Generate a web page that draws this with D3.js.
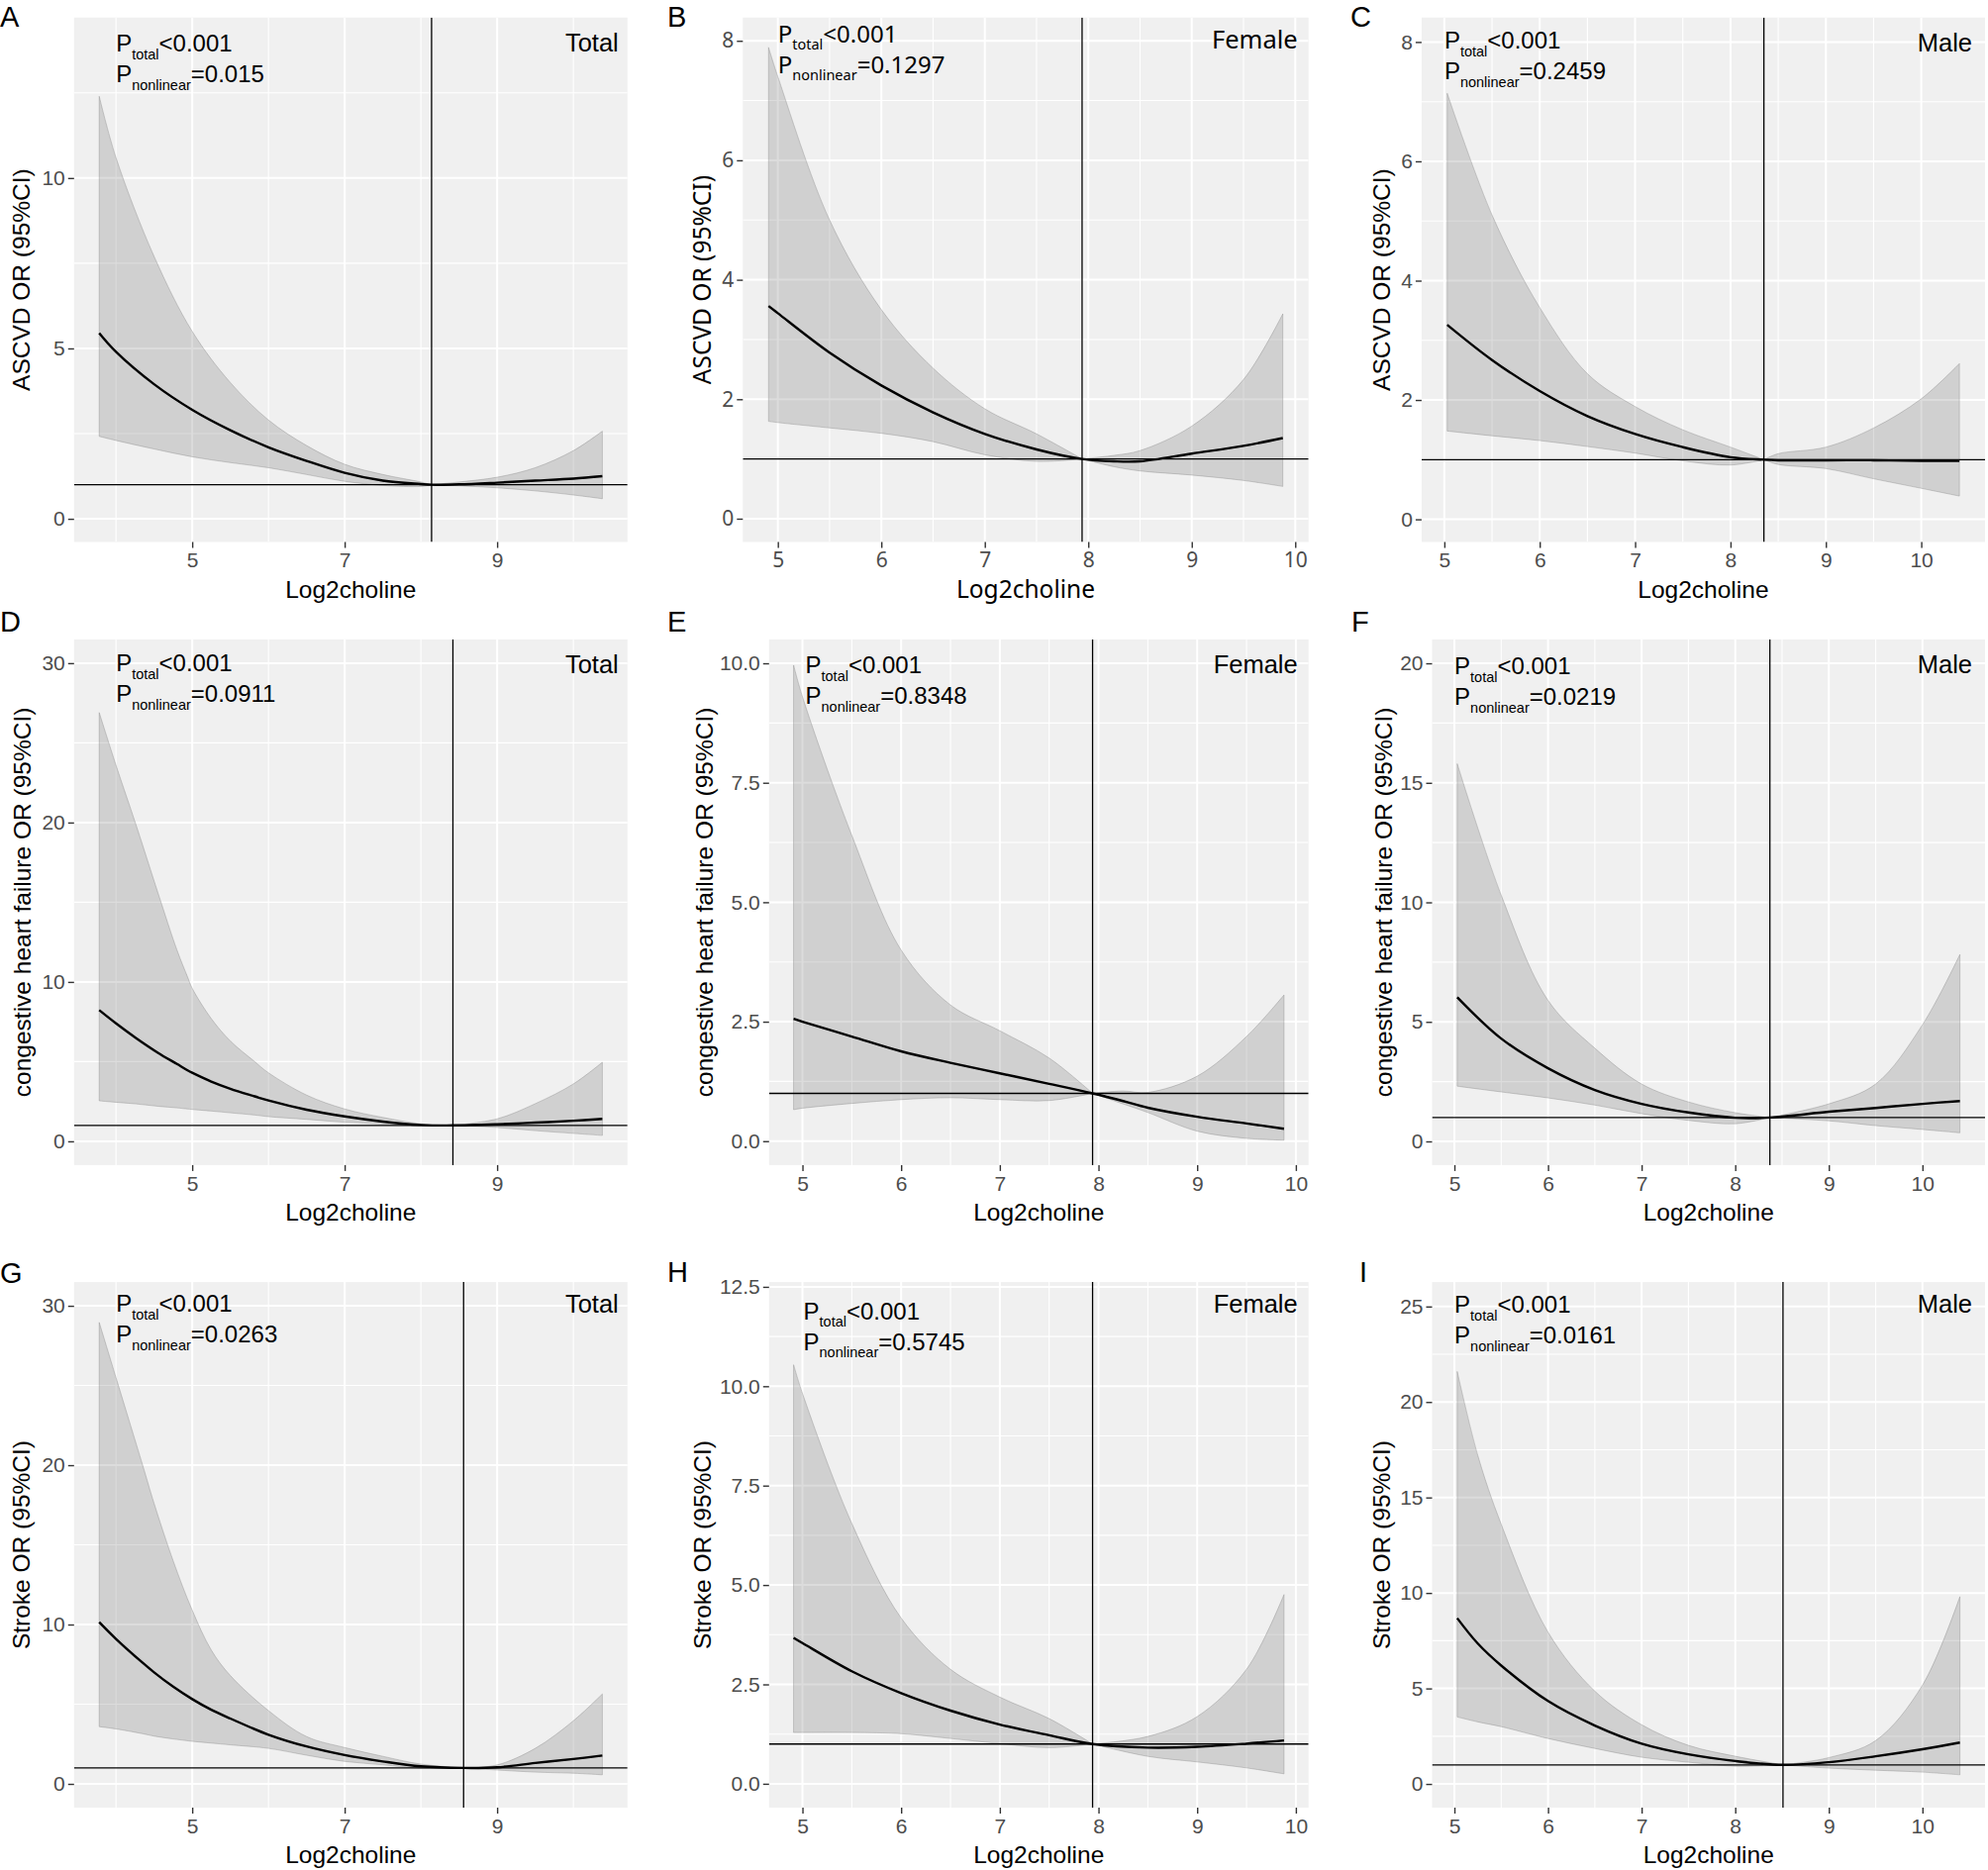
<!DOCTYPE html>
<html>
<head>
<meta charset="utf-8">
<script src="https://cdn.jsdelivr.net/npm/d3@7"></script>
<style>
  body { margin: 0; background: #fff; }
</style>
</head>
<body>
<svg id="fig" width="2008" height="1889"></svg>
<script>
// ---- data (Log2choline vs OR, 95% CI) ----

// A: ASCVD, total
const xA   = [3.78, 4, 4.5, 5, 5.5, 6, 6.5, 7, 7.5, 8, 8.14, 8.5, 9, 9.5, 10, 10.38];
const fitA = [5.45, 4.9, 3.95, 3.2, 2.6, 2.1, 1.7, 1.35, 1.12, 1.02, 1.0, 1.01, 1.06, 1.12, 1.18, 1.25];
const loA  = [2.42, 2.3, 2.05, 1.82, 1.65, 1.5, 1.3, 1.1, 0.98, 0.95, 1.0, 0.97, 0.91, 0.82, 0.7, 0.59];
const hiA  = [12.4, 10.6, 7.7, 5.5, 4.0, 2.9, 2.15, 1.6, 1.3, 1.08, 1.0, 1.08, 1.22, 1.5, 2.0, 2.57];

// B: ASCVD, female
const xB   = [4.91, 5, 5.5, 6, 6.5, 7, 7.5, 7.94, 8.25, 8.5, 9, 9.5, 9.88];
const fitB = [3.56, 3.44, 2.78, 2.23, 1.78, 1.42, 1.16, 1.0, 0.96, 0.96, 1.09, 1.22, 1.35];
const loB  = [1.63, 1.61, 1.52, 1.43, 1.29, 1.07, 0.96, 1.0, 0.87, 0.8, 0.73, 0.64, 0.54];
const hiB  = [7.89, 7.4, 5.0, 3.5, 2.52, 1.84, 1.42, 1.0, 1.06, 1.14, 1.55, 2.33, 3.43];

// C: ASCVD, male
const xC   = [5.03, 5.5, 6, 6.5, 7, 7.5, 8, 8.35, 8.5, 9, 9.5, 10, 10.4];
const fitC = [3.26, 2.67, 2.15, 1.73, 1.43, 1.21, 1.04, 1.0, 0.99, 0.99, 0.99, 0.98, 0.98];
const loC  = [1.48, 1.4, 1.32, 1.22, 1.11, 0.98, 0.91, 1.0, 0.92, 0.85, 0.68, 0.52, 0.39];
const hiC  = [7.14, 5.1, 3.55, 2.44, 1.89, 1.5, 1.21, 1.0, 1.1, 1.21, 1.53, 2.02, 2.61];

// D: congestive heart failure, total
const xD   = [3.78, 4, 4.26, 4.55, 4.8, 4.94, 5, 5.25, 5.5, 5.82, 6, 6.5, 7, 7.5, 8, 8.42, 9, 9.5, 10, 10.38];
const fitD = [8.23, 7.4, 6.49, 5.56, 4.85, 4.45, 4.3, 3.75, 3.3, 2.82, 2.56, 1.98, 1.56, 1.24, 1.03, 1.0, 1.07, 1.17, 1.29, 1.41];
const loD  = [2.54, 2.45, 2.35, 2.2, 2.1, 2.03, 2.0, 1.9, 1.79, 1.65, 1.55, 1.38, 1.2, 1.1, 0.98, 1.0, 0.87, 0.67, 0.5, 0.37];
const hiD  = [26.9, 23.6, 19.9, 15.6, 12.0, 10.3, 9.6, 7.7, 6.3, 5.0, 4.3, 2.9, 2.03, 1.5, 1.1, 1.0, 1.41, 2.36, 3.6, 4.96];

// E: congestive heart failure, female
const xE   = [4.91, 5, 5.5, 6, 6.5, 7, 7.5, 7.94, 8.25, 8.5, 9, 9.5, 9.88];
const fitE = [2.56, 2.5, 2.19, 1.88, 1.64, 1.42, 1.2, 1.0, 0.84, 0.7, 0.51, 0.37, 0.26];
const loE  = [0.66, 0.69, 0.79, 0.87, 0.91, 0.87, 0.85, 1.0, 0.78, 0.6, 0.21, 0.06, 0.02];
const hiE  = [9.96, 9.3, 6.4, 4.0, 2.85, 2.31, 1.74, 1.0, 1.05, 1.02, 1.36, 2.19, 3.06];

// F: congestive heart failure, male
const xF   = [5.03, 5.5, 6, 6.5, 7, 7.5, 8, 8.37, 9, 9.5, 10, 10.4];
const fitF = [6.03, 4.3, 3.06, 2.15, 1.57, 1.21, 0.99, 1.0, 1.24, 1.4, 1.57, 1.69];
const loF  = [2.31, 2.07, 1.82, 1.52, 1.16, 0.88, 0.74, 1.0, 0.86, 0.66, 0.5, 0.36];
const hiF  = [15.8, 10.3, 5.9, 3.9, 2.4, 1.65, 1.2, 1.0, 1.57, 2.4, 4.88, 7.82];

// G: stroke, total
const xG   = [3.78, 4, 4.35, 4.5, 4.75, 5, 5.25, 5.5, 6, 6.5, 7, 7.5, 8, 8.56, 9, 9.5, 10, 10.38];
const fitG = [10.15, 9.1, 7.6, 7.0, 6.1, 5.32, 4.65, 4.1, 3.09, 2.35, 1.81, 1.41, 1.1, 1.0, 1.04, 1.31, 1.56, 1.78];
const loG  = [3.59, 3.45, 3.15, 3.0, 2.82, 2.67, 2.56, 2.45, 2.23, 1.8, 1.41, 1.2, 0.98, 1.0, 0.87, 0.74, 0.67, 0.57];
const hiG  = [28.96, 25.5, 20.0, 17.6, 14.0, 10.9, 8.4, 6.8, 4.6, 2.97, 2.28, 1.73, 1.24, 1.0, 1.19, 2.23, 3.96, 5.64];

// H: stroke, female
const xH   = [4.91, 5, 5.5, 6, 6.5, 7, 7.5, 7.94, 8.5, 9, 9.5, 9.88];
const fitH = [3.67, 3.54, 2.83, 2.28, 1.84, 1.49, 1.22, 1.0, 0.91, 0.93, 1.01, 1.09];
const loH  = [1.29, 1.29, 1.29, 1.26, 1.14, 1.01, 0.91, 1.0, 0.69, 0.55, 0.4, 0.25];
const hiH  = [10.54, 9.82, 6.55, 4.17, 2.88, 2.18, 1.64, 1.0, 1.19, 1.69, 2.88, 4.76];

// I: stroke, male
const xI   = [5.03, 5.25, 5.5, 6, 6.5, 7, 7.5, 8, 8.51, 9, 9.5, 10, 10.4];
const fitI = [8.68, 7.35, 6.2, 4.34, 3.06, 2.11, 1.55, 1.2, 1.0, 1.14, 1.45, 1.82, 2.17];
const loI  = [3.51, 3.25, 3.0, 2.38, 1.86, 1.4, 1.14, 0.93, 1.0, 0.83, 0.72, 0.62, 0.48];
const hiI  = [21.6, 17.2, 13.6, 7.95, 4.86, 3.1, 2.02, 1.45, 1.0, 1.38, 2.27, 5.17, 9.81];

// cut points (vertical reference line) and p values
const cuts      = [8.14, 7.94, 8.35, 8.42, 7.94, 8.37, 8.56, 7.94, 8.51];
const pTotal    = ["<0.001", "<0.001", "<0.001", "<0.001", "<0.001", "<0.001", "<0.001", "<0.001", "<0.001"];
const pNonlin   = ["=0.015", "=0.1297", "=0.2459", "=0.0911", "=0.8348", "=0.0219", "=0.0263", "=0.5745", "=0.0161"];
const groups    = ["Total", "Female", "Male"];
const outcomes  = ["ASCVD OR (95%CI)", "congestive heart failure OR (95%CI)", "Stroke OR (95%CI)"];
const letters   = ["A", "B", "C", "D", "E", "F", "G", "H", "I"];

// tick values
const xTicksOdd   = [5, 7, 9];
const xMinorOdd   = [4, 6, 8, 10];
const xTicksAll   = [5, 6, 7, 8, 9, 10];
const xMinorAll   = [5.5, 6.5, 7.5, 8.5, 9.5];
const yTicksA = [0, 5, 10],              yMinorA = [2.5, 7.5, 12.5];
const yTicks8 = [0, 2, 4, 6, 8],         yMinor8 = [1, 3, 5, 7];
const yTicks30 = [0, 10, 20, 30],        yMinor30 = [5, 15, 25];
const yTicks10 = [0, 2.5, 5, 7.5, 10],   yMinor10 = [1.25, 3.75, 6.25, 8.75];
const yTicks20 = [0, 5, 10, 15, 20],     yMinor20 = [2.5, 7.5, 12.5, 17.5];
const yTicks125 = [0, 2.5, 5, 7.5, 10, 12.5], yMinor125 = [1.25, 3.75, 6.25, 8.75, 11.25];
const yTicks25 = [0, 5, 10, 15, 20, 25], yMinor25 = [2.5, 7.5, 12.5, 17.5, 22.5];

// ---- layout ----
const rows = [ {top: 17.7, bottom: 547.5}, {top: 645.9, bottom: 1176.9}, {top: 1295.1, bottom: 1826} ];
const helv = "'Liberation Sans', Arial, Helvetica, sans-serif";
const myriad = "'Noto Sans', 'Open Sans', sans-serif";

const panels = [
  {xs: xA, fit: fitA, lo: loA, hi: hiA, row: 0, col: 0, left: 74.8, right: 633.8, yDomain: [-0.68, 14.71],
   yTicks: yTicksA, yMinor: yMinorA, xTicks: xTicksOdd, xMinor: xMinorOdd, titleX: 21, letterX: 0, letterY: 27,
   annX: 4.0, annY: 52, labY: 52, labInset: 9, font: helv},
  {xs: xB, fit: fitB, lo: loB, hi: hiB, row: 0, col: 1, left: 750.3, right: 1321.7, yDomain: [-0.39, 8.39],
   yTicks: yTicks8, yMinor: yMinor8, xTicks: xTicksAll, xMinor: xMinorAll, titleX: 709, letterX: 674, letterY: 27,
   annX: 5.0, annY: 42.5, labY: 49, labInset: 11, font: myriad},
  {xs: xC, fit: fitC, lo: loC, hi: hiC, row: 0, col: 2, left: 1435.9, right: 2005, yDomain: [-0.38, 8.41],
   yTicks: yTicks8, yMinor: yMinor8, xTicks: xTicksAll, xMinor: xMinorAll, titleX: 1395, letterX: 1364, letterY: 27,
   annX: 5.0, annY: 49, labY: 52, labInset: 13, font: helv},
  {xs: xD, fit: fitD, lo: loD, hi: hiD, row: 1, col: 0, left: 74.8, right: 633.8, yDomain: [-1.49, 31.49],
   yTicks: yTicks30, yMinor: yMinor30, xTicks: xTicksOdd, xMinor: xMinorOdd, titleX: 22, letterX: 0, letterY: 638,
   annX: 4.0, annY: 678, labY: 680, labInset: 9, font: helv},
  {xs: xE, fit: fitE, lo: loE, hi: hiE, row: 1, col: 1, left: 776.8, right: 1321.7, yDomain: [-0.5, 10.5],
   yTicks: yTicks10, yMinor: yMinor10, xTicks: xTicksAll, xMinor: xMinorAll, titleX: 711, letterX: 674, letterY: 638,
   annX: 5.03, annY: 680, labY: 680, labInset: 11, font: helv, fmt: ".1f"},
  {xs: xF, fit: fitF, lo: loF, hi: hiF, row: 1, col: 2, left: 1446.5, right: 2005, yDomain: [-0.99, 21.0],
   yTicks: yTicks20, yMinor: yMinor20, xTicks: xTicksAll, xMinor: xMinorAll, titleX: 1397.5, letterX: 1365, letterY: 638,
   annX: 5.0, annY: 681, labY: 680, labInset: 13, font: helv},
  {xs: xG, fit: fitG, lo: loG, hi: hiG, row: 2, col: 0, left: 74.8, right: 633.8, yDomain: [-1.49, 31.49],
   yTicks: yTicks30, yMinor: yMinor30, xTicks: xTicksOdd, xMinor: xMinorOdd, titleX: 21, letterX: 0, letterY: 1296,
   annX: 4.0, annY: 1325, labY: 1326, labInset: 9, font: helv},
  {xs: xH, fit: fitH, lo: loH, hi: hiH, row: 2, col: 1, left: 776.8, right: 1321.7, yDomain: [-0.6, 12.62],
   yTicks: yTicks125, yMinor: yMinor125, xTicks: xTicksAll, xMinor: xMinorAll, titleX: 709, letterX: 674, letterY: 1295,
   annX: 5.01, annY: 1332.5, labY: 1326, labInset: 11, font: helv, fmt: ".1f"},
  {xs: xI, fit: fitI, lo: loI, hi: hiI, row: 2, col: 2, left: 1446.5, right: 2005, yDomain: [-1.24, 26.28],
   yTicks: yTicks25, yMinor: yMinor25, xTicks: xTicksAll, xMinor: xMinorAll, titleX: 1395.5, letterX: 1373, letterY: 1295,
   annX: 5.0, annY: 1326, labY: 1326, labInset: 13, font: helv}
];

const svg = d3.select("#fig");

function expand(ext) {
  const pad = (ext[1] - ext[0]) * 0.05;
  return [ext[0] - pad, ext[1] + pad];
}

function drawPanel(p, i) {
  const top = rows[p.row].top, bottom = rows[p.row].bottom;
  const x = d3.scaleLinear().domain(expand(d3.extent(p.xs))).range([p.left, p.right]);
  const y = d3.scaleLinear().domain(p.yDomain).range([bottom, top]);
  const g = svg.append("g").style("font-family", p.font);
  const pts = p.xs.map((v, k) => ({x: v, fit: p.fit[k], lo: p.lo[k], hi: p.hi[k]}));
  const smooth = d3.curveCatmullRom.alpha(0.5);

  const clipId = "clip" + i;
  g.append("clipPath").attr("id", clipId)
    .append("rect").attr("x", p.left).attr("y", top)
    .attr("width", p.right - p.left).attr("height", bottom - top);

  // panel background
  g.append("rect")
    .attr("x", p.left).attr("y", top)
    .attr("width", p.right - p.left).attr("height", bottom - top)
    .attr("fill", "#f0f0f0");

  // grid
  const grid = g.append("g").attr("clip-path", `url(#${clipId})`);
  grid.selectAll(".vminor").data(p.xMinor).join("line")
    .attr("x1", d => x(d)).attr("x2", d => x(d)).attr("y1", top).attr("y2", bottom)
    .attr("stroke", "#fff").attr("stroke-width", 1.1);
  grid.selectAll(".hminor").data(p.yMinor).join("line")
    .attr("y1", d => y(d)).attr("y2", d => y(d)).attr("x1", p.left).attr("x2", p.right)
    .attr("stroke", "#fff").attr("stroke-width", 1.1);
  grid.selectAll(".vmajor").data(p.xTicks).join("line")
    .attr("x1", d => x(d)).attr("x2", d => x(d)).attr("y1", top).attr("y2", bottom)
    .attr("stroke", "#fff").attr("stroke-width", 2);
  grid.selectAll(".hmajor").data(p.yTicks).join("line")
    .attr("y1", d => y(d)).attr("y2", d => y(d)).attr("x1", p.left).attr("x2", p.right)
    .attr("stroke", "#fff").attr("stroke-width", 2);

  const plot = g.append("g").attr("clip-path", `url(#${clipId})`);

  // confidence band, split at the cut point where it pinches
  const area = d3.area()
    .x(d => x(d.x)).y0(d => y(d.lo)).y1(d => y(d.hi))
    .curve(smooth);
  const leftPts = pts.filter(d => d.x <= cuts[i]);
  const rightPts = pts.filter(d => d.x >= cuts[i]);
  [leftPts, rightPts].forEach(part => {
    plot.append("path").datum(part)
      .attr("d", area)
      .attr("fill", "#505050").attr("fill-opacity", 0.2)
      .attr("stroke", "#8a8a8a").attr("stroke-opacity", 0.5).attr("stroke-width", 0.8);
  });

  // reference lines
  plot.append("line")
    .attr("x1", p.left).attr("x2", p.right).attr("y1", y(1)).attr("y2", y(1))
    .attr("stroke", "#000").attr("stroke-width", 1.3);
  plot.append("line")
    .attr("x1", x(cuts[i])).attr("x2", x(cuts[i])).attr("y1", top).attr("y2", bottom)
    .attr("stroke", "#000").attr("stroke-width", 1.3);

  // fitted OR curve
  const line = d3.line().x(d => x(d.x)).y(d => y(d.fit)).curve(smooth);
  plot.append("path").datum(pts)
    .attr("d", line)
    .attr("fill", "none").attr("stroke", "#000").attr("stroke-width", 2.4);

  // axes
  const tickFmt = p.fmt ? d3.format(p.fmt) : d3.format("d");
  const yAxis = g.append("g")
    .attr("transform", `translate(${p.left},0)`)
    .call(d3.axisLeft(y).tickValues(p.yTicks).tickFormat(tickFmt).tickSize(6).tickPadding(3));
  const xAxis = g.append("g")
    .attr("transform", `translate(0,${bottom})`)
    .call(d3.axisBottom(x).tickValues(p.xTicks).tickFormat(d3.format("d")).tickSize(6).tickPadding(5));
  [yAxis, xAxis].forEach(ax => {
    ax.select(".domain").remove();
    ax.selectAll(".tick line").attr("stroke", "#333").attr("stroke-width", 1.4);
    ax.selectAll(".tick text")
      .attr("fill", "#4d4d4d")
      .style("font-size", "21px")
      .style("font-family", p.font);
  });

  // axis titles
  g.append("text")
    .attr("x", (p.left + p.right) / 2).attr("y", bottom + 56)
    .attr("text-anchor", "middle")
    .style("font-size", "24.5px")
    .text("Log2choline");
  g.append("text")
    .attr("transform", `translate(${p.titleX},${(top + bottom) / 2}) rotate(-90)`)
    .attr("text-anchor", "middle").attr("dy", "0.36em")
    .style("font-size", "24.5px")
    .text(outcomes[p.row]);

  // p-value annotation
  const pLines = [["total", pTotal[i]], ["nonlinear", pNonlin[i]]];
  pLines.forEach((pl, k) => {
    const t = g.append("text")
      .attr("x", x(p.annX)).attr("y", p.annY + k * 31)
      .style("font-size", "24px");
    t.append("tspan").text("P");
    t.append("tspan").attr("dy", 7.5).style("font-size", "14.5px").text(pl[0]);
    t.append("tspan").attr("dy", -7.5).text(pl[1]);
  });

  // group label
  g.append("text")
    .attr("x", p.right - p.labInset).attr("y", p.labY)
    .attr("text-anchor", "end")
    .style("font-size", "25.5px")
    .text(groups[p.col]);

  // panel letter
  svg.append("text")
    .attr("x", p.letterX).attr("y", p.letterY)
    .style("font-family", helv).style("font-size", "29px")
    .text(letters[i]);
}

panels.forEach(drawPanel);
</script>
</body>
</html>
